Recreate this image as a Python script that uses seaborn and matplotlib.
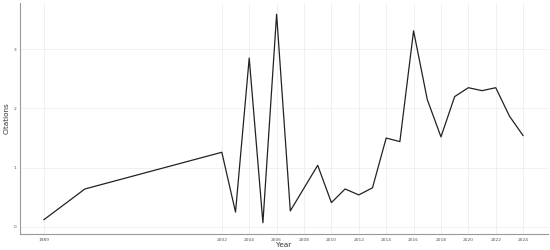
import matplotlib
matplotlib.use("Agg")
import matplotlib.pyplot as plt
import seaborn as sns
import pandas as pd

years = [1989, 1992, 2002, 2003, 2004, 2005, 2006, 2007, 2009, 2010, 2011, 2012,
         2013, 2014, 2015, 2016, 2017, 2018, 2019, 2020, 2021, 2022, 2023, 2024]
citations = [0.12, 0.64, 1.26, 0.25, 2.85, 0.07, 3.59, 0.27, 1.04, 0.41, 0.64, 0.54,
             0.66, 1.50, 1.44, 3.31, 2.15, 1.52, 2.20, 2.35, 2.30, 2.35, 1.87, 1.54]
x_ticks = [1989, 2002, 2004, 2006, 2008, 2010, 2012, 2014, 2016, 2018, 2020, 2022, 2024]
y_ticks = [0, 1, 2, 3]

df = pd.DataFrame({"Year": years, "Citations": citations})

sns.set_theme(style="white")
fig = plt.figure(figsize=(5.5, 2.5), dpi=100)
ax = fig.add_axes([0.036, 0.064, 0.96, 0.924])

sns.lineplot(data=df, x="Year", y="Citations", ax=ax, color="#222222", linewidth=0.9)

ax.set_xlim(1987.25, 2025.8)
ax.set_ylim(-0.12, 3.78)
ax.set_xticks(x_ticks)
ax.set_xticklabels([str(v) for v in x_ticks])
ax.set_yticks(y_ticks)
ax.grid(True, color="#ebebeb", linewidth=0.5)
ax.set_axisbelow(True)
for s in ["top", "right"]:
    ax.spines[s].set_visible(False)
for s in ["left", "bottom"]:
    ax.spines[s].set_color("#999999")
    ax.spines[s].set_linewidth(0.8)
ax.tick_params(axis="both", length=1.5, width=0.4, color="#999999",
               labelsize=3.2, labelcolor="#555555", pad=1.2)
ax.set_xlabel("Year", fontsize=5.2, color="#333333")
ax.set_ylabel("Citations", fontsize=5.2, color="#333333")
ax.xaxis.set_label_coords(0.5, -0.036)
ax.yaxis.set_label_coords(-0.02, 0.5)

fig.savefig("out.png", dpi=100)
